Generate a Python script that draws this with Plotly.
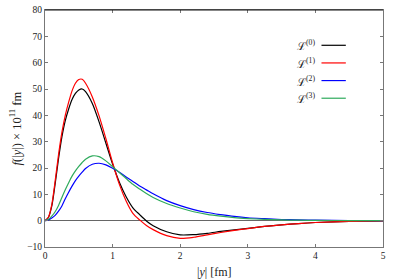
import plotly.graph_objects as go

x_vals = [0, 0.05, 0.1, 0.15, 0.2, 0.25, 0.3, 0.35, 0.4, 0.45, 0.5, 0.55, 0.6, 0.7, 0.8, 0.9,
          1.0, 1.1, 1.2, 1.3, 1.4, 1.5, 1.6, 1.8, 2.0, 2.2, 2.4, 2.6, 2.8, 3.0, 3.25, 3.5,
          3.75, 4.0, 4.5, 5.0]

L0 = [0, 1.2, 5.5, 14, 23.5, 31.8, 38, 42.4, 46, 48.3, 49.6, 50, 49, 44.5, 37.5, 29.5,
      21.5, 14.6, 9.1, 4.9, 2.3, -0.1, -1.9, -4.2, -5.4, -5.3, -4.8, -4.1, -3.5, -2.9, -2.2, -1.6,
      -1.1, -0.7, -0.25, -0.05]

L1 = [0, 1.3, 6, 15, 25, 33.5, 40, 45, 49.3, 52.2, 53.6, 53.7, 52.2, 47, 39.8, 31.2,
      22, 13.8, 7.5, 2.8, 0.3, -1.8, -3.4, -5.7, -6.7, -6.3, -5.4, -4.5, -3.7, -3.0, -2.2, -1.6,
      -1.1, -0.7, -0.25, -0.05]

L2 = [0, 0.3, 1.0, 2.0, 3.6, 5.6, 8.3, 10.8, 13.1, 15.2, 16.9, 18.4, 19.8, 21.4, 21.8, 21.2,
      19.9, 18.4, 16.6, 14.9, 13.2, 11.7, 10.2, 7.6, 5.7, 4.2, 3.1, 2.3, 1.6, 1.1, 0.75, 0.45,
      0.3, 0.2, 0.07, 0.02]

L3 = [0, 0.5, 1.7, 3.4, 5.8, 8.8, 11.7, 14.4, 16.9, 18.9, 20.6, 22.1, 23.3, 24.6, 24.3, 22.7,
      20.5, 18.3, 16.0, 13.8, 12.0, 10.3, 8.8, 6.5, 4.8, 3.4, 2.4, 1.7, 1.15, 0.8, 0.5, 0.3,
      0.18, 0.1, 0.04, 0.01]

names = ["ℒ<sup>(0)</sup>", "ℒ<sup>(1)</sup>", "ℒ<sup>(2)</sup>", "ℒ<sup>(3)</sup>"]
series = [L0, L1, L2, L3]
colors = ["#000000", "#ff0000", "#0000ff", "#2eaa5c"]

x_title = "|<i>y</i>| [fm]"
y_title = "<i>f</i>(|<i>y</i>|) × 10<sup>11</sup> fm"

font_family = "Liberation Serif, DejaVu Serif, serif"

fig = go.Figure()
for name, ys, c in zip(names, series, colors):
    fig.add_trace(go.Scatter(x=x_vals, y=ys, mode="lines", name=name,
                             line=dict(color=c, width=1.2, shape="spline", smoothing=0.8),
                             showlegend=False))

# manual legend (text left of line sample)
leg_y = [66.6, 59.9, 53.2, 46.5]
for name, c, yy in zip(names, colors, leg_y):
    fig.add_annotation(x=4.02, y=yy, xref="x", yref="y", text=name, showarrow=False,
                       xanchor="right", yanchor="middle",
                       font=dict(family=font_family, size=11, color="#222"))
    fig.add_shape(type="line", x0=4.09, x1=4.45, y0=yy, y1=yy, xref="x", yref="y",
                  line=dict(color=c, width=1.2))

# axis titles as annotations so they do not push the plot area
fig.add_annotation(x=0.5, y=-0.105, xref="paper", yref="paper", text=x_title,
                   showarrow=False, xanchor="center", yanchor="middle",
                   font=dict(family=font_family, size=12, color="#222"))
fig.add_annotation(x=-0.089, y=0.5, xref="paper", yref="paper", text=y_title,
                   showarrow=False, xanchor="center", yanchor="middle", textangle=-90,
                   font=dict(family=font_family, size=12.5, color="#222"))

axis_common = dict(showgrid=False, showline=True, linecolor="#777", linewidth=1,
                   mirror="allticks", ticks="inside", ticklen=3, tickcolor="#777",
                   ticklabeloverflow="allow", automargin=False,
                   tickfont=dict(family=font_family, size=9.5, color="#222"))

fig.update_xaxes(range=[0, 5], dtick=1, tick0=0, zeroline=False, **axis_common)
fig.update_yaxes(range=[-10, 80], dtick=10, tick0=0, zeroline=True, zerolinecolor="#666",
                 zerolinewidth=1, **axis_common)

fig.add_shape(type="line", xref="paper", yref="paper", x0=0, x1=1, y0=1, y1=1,
              line=dict(color="#111", width=1))

fig.update_layout(width=399, height=279, autosize=False,
                  margin=dict(l=45, r=16, t=10, b=32),
                  paper_bgcolor="white", plot_bgcolor="white")

fig.write_html("out.html", config={"displayModeBar": False},
               post_script="document.body.style.margin='0px';")
